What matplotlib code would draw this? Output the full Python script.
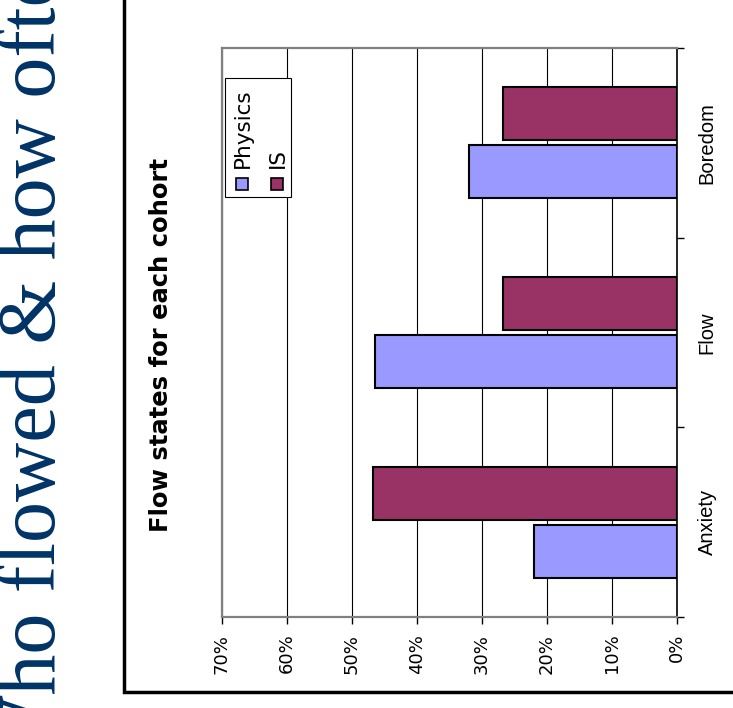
import numpy as np
import matplotlib.pyplot as plt
from matplotlib.lines import Line2D
from matplotlib.patches import Rectangle

# Données (en %)
categories = ['Anxiety', 'Flow', 'Boredom']
physics = [22.0, 46.4, 32.0]
is_vals = [46.7, 26.7, 26.7]
series_names = ['Physics', 'IS']
series_colors = ['#9999FF', '#993366']
xticks = [0, 10, 20, 30, 40, 50, 60, 70]

W, H = 733, 708
fig = plt.figure(figsize=(W / 100, H / 100), dpi=100)


def fx(px):
    return px / W


def fy(py):
    return 1 - py / H


# Zone de tracé (graphique tourné de 90°)
ax = fig.add_axes([fx(222), fy(617), fx(677) - fx(222), fy(48) - fy(617)])
y = np.arange(len(categories))
h = 0.28
off = 0.153
ax.barh(y - off, physics, height=h, color=series_colors[0], edgecolor='black', lw=1.5, zorder=3)
ax.barh(y + off, is_vals, height=h, color=series_colors[1], edgecolor='black', lw=1.5, zorder=3)

ax.set_xlim(70, 0)
ax.set_ylim(-0.5, 2.5)
ax.set_xticks(xticks)
ax.set_xticklabels([f'{v}%' for v in xticks], rotation=90, fontsize=13, family='DejaVu Sans')
ax.xaxis.grid(True, color='black', lw=0.8)
ax.set_axisbelow(True)
ax.tick_params(axis='x', length=5, width=1, color='black', pad=7)

ax.yaxis.tick_right()
ax.set_yticks(y)
ax.set_yticklabels(categories, rotation=90, fontsize=14.5, family='Liberation Sans', va='center')
ax.set_yticks([-0.5, 0.5, 1.5, 2.5], minor=True)
ax.tick_params(axis='y', which='major', length=0, pad=15)
ax.tick_params(axis='y', which='minor', length=5, width=1, color='black', right=True, left=False)

for side in ['left', 'top', 'bottom']:
    ax.spines[side].set_color('#808080')
    ax.spines[side].set_linewidth(1.6)
ax.spines['right'].set_color('black')
ax.spines['right'].set_linewidth(1.2)

# Légende dessinée à la main (texte tourné)
fig.add_artist(Rectangle((fx(225), fy(197)), fx(291) - fx(225), fy(78) - fy(197),
                         transform=fig.transFigure, facecolor='white', edgecolor='black', lw=0.8, zorder=5))
for name, col, bx in zip(series_names, series_colors, [249, 284]):
    fig.add_artist(Rectangle((fx(bx - 13), fy(190)), 12 / W, 12 / H, transform=fig.transFigure,
                             facecolor=col, edgecolor='black', lw=1.2, zorder=6))
    fig.text(fx(bx), fy(168), name, rotation=90, rotation_mode='anchor', ha='left', va='baseline',
             fontsize=15.5, family='DejaVu Sans', zorder=6)

# Titres
fig.text(fx(168), fy(345), 'Flow states for each cohort', rotation=90, rotation_mode='anchor',
         ha='center', va='baseline', fontsize=17.5, weight='bold', family='DejaVu Sans')
fig.text(fx(55), fy(772), 'Who flowed & how often', rotation=90, rotation_mode='anchor',
         ha='left', va='baseline', fontsize=59, family='Liberation Serif', color='#003366')

# Cadre du graphique
fig.add_artist(Line2D([fx(124), fx(124), fx(740)], [fy(-5), fy(692), fy(692)],
                      transform=fig.transFigure, color='black', lw=2.5, solid_joinstyle='miter'))

fig.savefig('out.png', dpi=100)
